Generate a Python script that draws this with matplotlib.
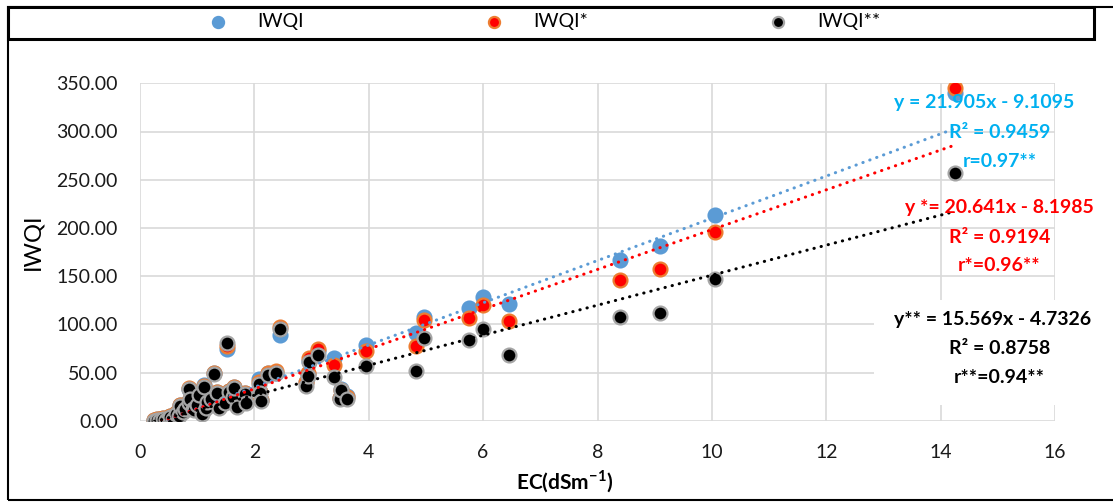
import matplotlib
matplotlib.use("Agg")
import matplotlib.pyplot as plt
from matplotlib.patches import Rectangle
import numpy as np

plt.rcParams['font.family'] = ['Lato', 'DejaVu Sans']
plt.rcParams['mathtext.fontset'] = 'custom'
plt.rcParams['mathtext.rm'] = 'Lato'
plt.rcParams['mathtext.bf'] = 'Lato:bold'

# EC values (dS/m)
ec = [0.25, 0.30, 0.35, 0.40, 0.45, 0.50, 0.53, 0.58, 0.63, 0.68,
      0.70, 0.75, 0.78, 0.85, 0.86, 0.88, 0.92, 0.95, 1.00, 1.04,
      1.08, 1.12, 1.15, 1.18, 1.25, 1.30, 1.35, 1.38, 1.48, 1.53,
      1.55, 1.62, 1.65, 1.70, 1.83, 1.85, 2.08, 2.10, 2.12, 2.23,
      2.37, 2.45, 2.90, 2.93, 2.95, 3.12, 3.40, 3.50, 3.52, 3.62,
      3.95, 4.83, 4.97, 5.75, 6.00, 6.45, 8.40, 9.10, 10.05, 14.25]

iwqi = [1, 2, 2, 3, 2, 4, 5, 3, 8, 6,
        16, 10, 13, 20, 33, 23, 14, 12, 18, 28,
        8, 37, 15, 20, 25, 49, 30, 14, 19, 74,
        31, 26, 35, 15, 29, 19, 43, 30, 21, 49,
        50, 89, 40, 48, 62, 72, 65, 24, 33, 26,
        79, 91, 108, 117, 128, 121, 167, 181, 213, 340]

iwqi_s = [1, 2, 2, 3, 2, 4, 5, 3, 8, 6,
          16, 10, 13, 20, 34, 23, 14, 12, 18, 28,
          8, 36, 15, 20, 25, 49, 30, 14, 19, 77,
          31, 26, 35, 15, 29, 19, 40, 30, 21, 50,
          52, 97, 40, 50, 65, 74, 58, 24, 32, 25,
          72, 77, 104, 107, 120, 103, 146, 157, 196, 345]

iwqi_ss = [0, 1, 1, 2, 1, 3, 4, 2, 7, 5,
           15, 9, 12, 18, 33, 22, 12, 11, 16, 27,
           7, 35, 13, 19, 23, 48, 29, 13, 18, 81,
           30, 25, 34, 14, 28, 18, 38, 29, 20, 47,
           50, 95, 36, 46, 61, 68, 45, 22, 32, 23,
           57, 52, 86, 84, 95, 68, 108, 112, 147, 257]

labels = ["IWQI", "IWQI*", "IWQI**"]
slopes = [21.905, 20.641, 15.569]
intercepts = [-9.1095, -8.1985, -4.7326]

face = ["#5B9BD5", "#FF0000", "#000000"]
edge = ["#5B9BD5", "#ED7D31", "#A5A5A5"]
line_col = ["#5B9BD5", "#FF0000", "#000000"]

fig = plt.figure(figsize=(11.13, 5.04), dpi=100)
ax = fig.add_axes([140 / 1113, 1 - 420.7 / 504, 915 / 1113, 337.4 / 504])

series = [iwqi, iwqi_s, iwqi_ss]
handles = []
for i in range(3):
    h = ax.scatter(ec, series[i], s=100, c=face[i], edgecolors=edge[i],
                   linewidths=1.6, zorder=2, label=labels[i])
    handles.append(h)

# trend lines from the fitted equations
xx = np.array([min(ec), max(ec)])
for i in range(3):
    ax.plot(xx, slopes[i] * xx + intercepts[i], color=line_col[i], lw=2.2,
            linestyle=(0, (0.1, 2.3)), dash_capstyle='round', zorder=3)

ax.set_xlim(0, 16)
ax.set_ylim(0, 350)
ax.set_xticks(np.arange(0, 17, 2))
ax.set_yticks(np.arange(0, 351, 50))
ax.set_yticklabels([f"{v:.2f}" for v in np.arange(0, 351, 50)])
ax.grid(True, color="#D9D9D9", lw=1.2)
ax.set_axisbelow(True)
for s in ax.spines.values():
    s.set_visible(False)
ax.tick_params(length=0, labelsize=14, labelcolor="#1a1a1a")
ax.tick_params(axis='y', pad=16)
ax.tick_params(axis='x', pad=17)

ax.set_ylabel("IWQI", fontsize=17)
ax.yaxis.set_label_coords(-0.106, 0.53)
ax.set_xlabel(r"EC(dSm$^{\mathbf{-1}}$)", fontsize=15, fontweight='bold')
ax.xaxis.set_label_coords(0.464, -0.14)

# white box behind the IWQI** equation
ax.add_patch(Rectangle((12.83, 16), 4.2, 109, facecolor="white",
                       edgecolor="none", zorder=4, clip_on=False))

txt = dict(fontsize=14, fontweight='bold', ha='center', va='center',
           zorder=5, clip_on=False)
ax.text(14.76, 330, "y = 21.905x - 9.1095", color="#00B0F0", **txt)
ax.text(15.03, 299, "R² = 0.9459", color="#00B0F0", **txt)
ax.text(15.03, 269, "r=0.97**", color="#00B0F0", **txt)
ax.text(15.02, 221, "y *= 20.641x - 8.1985", color="#FF0000", **txt)
ax.text(15.03, 190, "R² = 0.9194", color="#FF0000", **txt)
ax.text(15.03, 161, "r*=0.96**", color="#FF0000", **txt)
ax.text(14.91, 105, "y** = 15.569x - 4.7326", color="#000000", **txt)
ax.text(15.03, 75, "R² = 0.8758", color="#000000", **txt)
ax.text(15.03, 45, "r**=0.94**", color="#000000", **txt)

# outer chart border and legend box
fig.add_artist(Rectangle((8 / 1113, 4 / 504), 1.2, 493 / 504, transform=fig.transFigure,
                         fill=False, edgecolor="black", lw=1.5))
fig.add_artist(Rectangle((8 / 1113, 1 - 39 / 504), 1086 / 1113, 32 / 504,
                         transform=fig.transFigure, fill=False,
                         edgecolor="black", lw=2.2))

fig.legend(handles=handles, loc='center', bbox_to_anchor=(0.489, 1 - 22 / 504),
           ncol=3, frameon=False, fontsize=14, markerscale=0.8,
           handlelength=1.0, handletextpad=1.5, columnspacing=9.3)

fig.savefig("out.png", dpi=100)
